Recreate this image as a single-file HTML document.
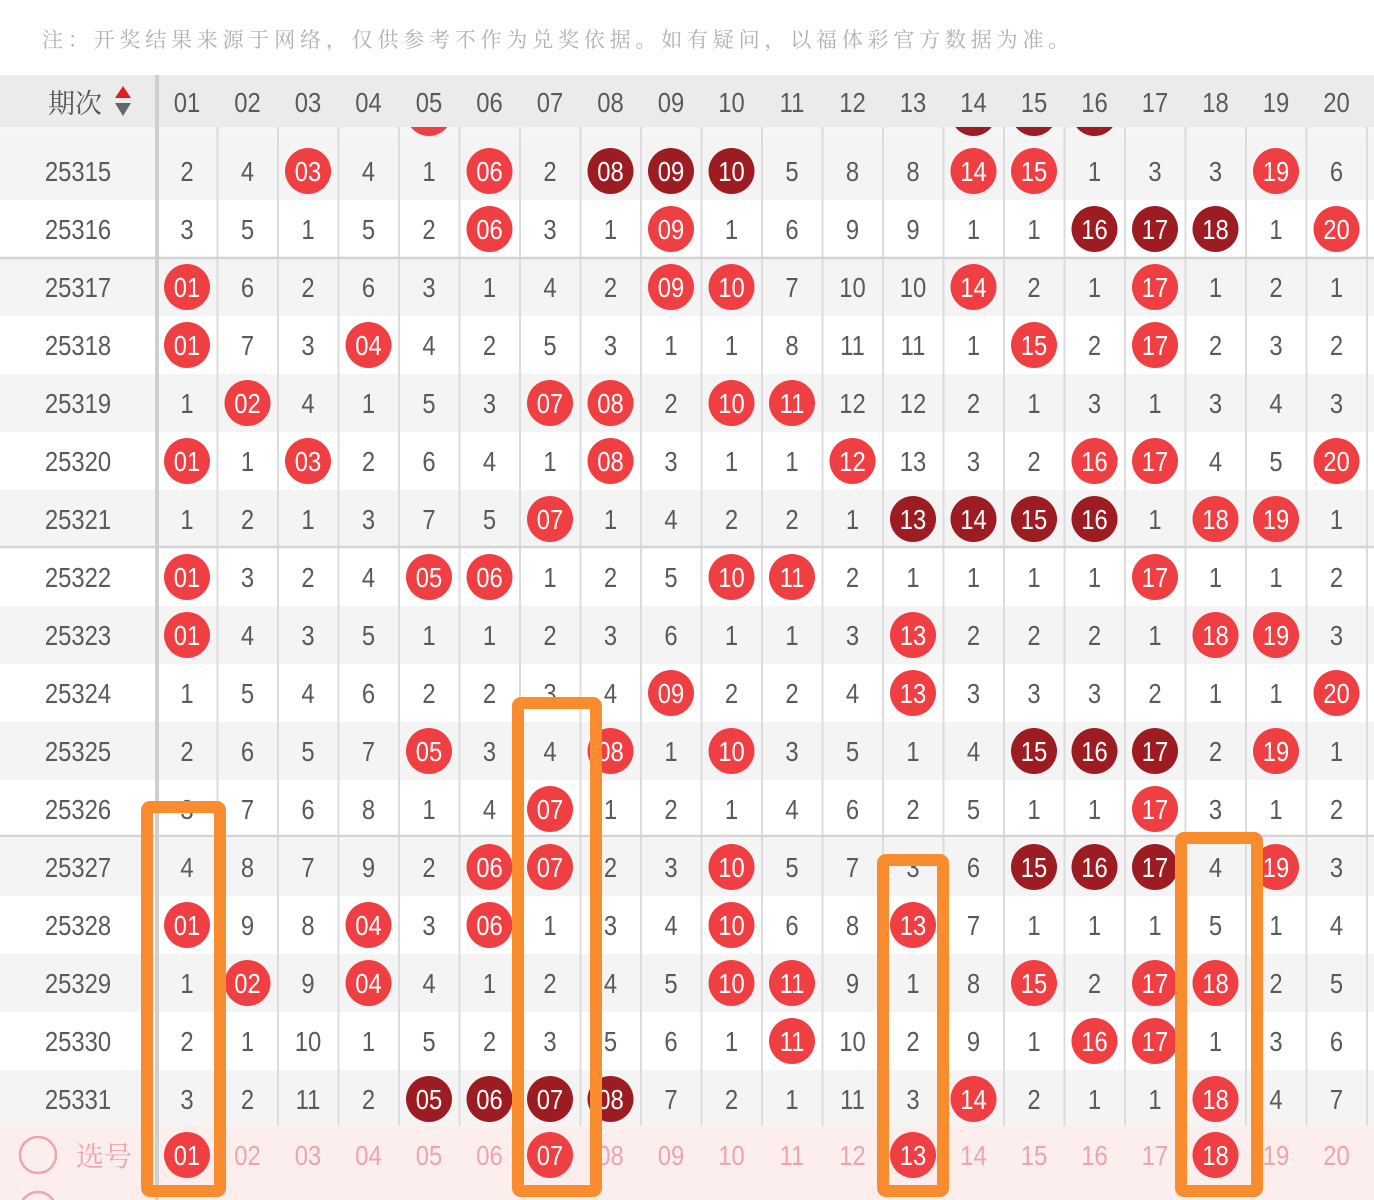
<!DOCTYPE html>
<html><head><meta charset="utf-8"><style>
html,body{margin:0;padding:0;background:#fff;width:1374px;height:1200px;overflow:hidden}
svg{display:block}
</style></head><body>
<svg id="s" width="1374" height="1200" xmlns="http://www.w3.org/2000/svg"></svg>
<script>
const rows=[
["25315","2,4,r03,4,1,r06,2,d08,d09,d10,5,8,8,r14,r15,1,3,3,r19,6"],
["25316","3,5,1,5,2,r06,3,1,r09,1,6,9,9,1,1,d16,d17,d18,1,r20"],
["25317","r01,6,2,6,3,1,4,2,r09,r10,7,10,10,r14,2,1,r17,1,2,1"],
["25318","r01,7,3,r04,4,2,5,3,1,1,8,11,11,1,r15,2,r17,2,3,2"],
["25319","1,r02,4,1,5,3,r07,r08,2,r10,r11,12,12,2,1,3,1,3,4,3"],
["25320","r01,1,r03,2,6,4,1,r08,3,1,1,r12,13,3,2,r16,r17,4,5,r20"],
["25321","1,2,1,3,7,5,r07,1,4,2,2,1,d13,d14,d15,d16,1,r18,r19,1"],
["25322","r01,3,2,4,r05,r06,1,2,5,r10,r11,2,1,1,1,1,r17,1,1,2"],
["25323","r01,4,3,5,1,1,2,3,6,1,1,3,r13,2,2,2,1,r18,r19,3"],
["25324","1,5,4,6,2,2,3,4,r09,2,2,4,r13,3,3,3,2,1,1,r20"],
["25325","2,6,5,7,r05,3,4,r08,1,r10,3,5,1,4,d15,d16,d17,2,r19,1"],
["25326","3,7,6,8,1,4,r07,1,2,1,4,6,2,5,1,1,r17,3,1,2"],
["25327","4,8,7,9,2,r06,r07,2,3,r10,5,7,3,6,d15,d16,d17,4,r19,3"],
["25328","r01,9,8,r04,3,r06,1,3,4,r10,6,8,r13,7,1,1,1,5,1,4"],
["25329","1,r02,9,r04,4,1,2,4,5,r10,r11,9,1,8,r15,2,r17,r18,2,5"],
["25330","2,1,10,1,5,2,3,5,6,1,r11,10,2,9,1,r16,r17,1,3,6"],
["25331","3,2,11,2,d05,d06,d07,d08,7,2,1,11,3,r14,2,1,1,r18,4,7"]];
const RED="#ef3f43",DARK="#9c1c22",F='font-family="Liberation Sans Narrow, Liberation Sans, sans-serif"';
const cx=i=>187+i*60.5;
let h='';
h+=`<rect x="0" y="84" width="1374" height="58" fill="#f5f5f5"/>`;
[[4,RED],[13,DARK],[14,DARK],[15,DARK]].forEach(([i,c])=>h+=`<circle cx="${cx(i)}" cy="113" r="23" fill="${c}"/>`);
rows.forEach((r,k)=>{const y=142+k*58;
 h+=`<rect x="0" y="${y}" width="1374" height="58" fill="${k%2?'#fff':'#f4f4f4'}"/>`;
});
for(let i=0;i<20;i++){const x=157+(i+1)*60.5;h+=`<line x1="${x}" y1="127" x2="${x}" y2="1200" stroke="#dcdcdc" stroke-width="2"/>`;}
[258,547,836].forEach(y=>h+=`<line x1="0" y1="${y}" x2="1374" y2="${y}" stroke="#d4d4d4" stroke-width="2.5"/>`);
h+=`<rect x="0" y="1126" width="1374" height="74" fill="#fdeeee"/>`;
h+=`<circle cx="38" cy="1155" r="18" fill="none" stroke="#eda4ae" stroke-width="2.5"/>`;
h+=`<text x="76" y="1166" font-family="Noto Serif CJK SC, serif" font-size="28" fill="#eda4ae">选号</text>`;
h+=`<circle cx="38" cy="1210" r="18" fill="none" stroke="#eda4ae" stroke-width="2.5"/>`;
const T=(x,y,s,fill)=>`<text x="${x}" y="${y}" text-anchor="middle" ${F} font-size="28" fill="${fill}" transform="translate(${x} 0) scale(0.85 1) translate(${-x} 0)">${s}</text>`;
for(let i=0;i<20;i++){const n=String(i+1).padStart(2,'0');
 if([0,6,12,17].includes(i)){h+=`<circle cx="${cx(i)}" cy="1155" r="23" fill="${RED}"/>`+T(cx(i),1165,n,"#fff");}
 else h+=T(cx(i),1165,n,"#eda4ae");}
rows.forEach((r,k)=>{const c=171+k*58;
 h+=T(78,c+10,r[0],"#5a5a5a");
 r[1].split(',').forEach((v,i)=>{
  if(v[0]=='r'||v[0]=='d'){h+=`<circle cx="${cx(i)}" cy="${c}" r="23" fill="${v[0]=='r'?RED:DARK}"/>`+T(cx(i),c+10,v.slice(1),"#fff");}
  else h+=T(cx(i),c+10,v,"#5a5a5a");
 });
});
h+=`<rect x="0" y="75" width="1374" height="52" fill="#ebebeb"/>`;
h+=`<text x="48" y="113" font-family="Noto Serif CJK SC, serif" font-size="27" fill="#555">期次</text>`;
h+=`<polygon points="123,86 131,98 115,98" fill="#e02020"/><polygon points="115,103 131,103 123,116" fill="#666"/>`;
for(let i=0;i<20;i++)h+=T(cx(i),112,String(i+1).padStart(2,'0'),"#5a5a5a");
h+=`<rect x="155" y="75" width="4" height="1125" fill="#cfcfcf"/>`;
h+=`<text x="42" y="47" font-family="Noto Serif CJK SC, serif" font-size="21" letter-spacing="4.8" fill="#b0b0b0">注：开奖结果来源于网络，仅供参考不作为兑奖依据。如有疑问，以福体彩官方数据为准。</text>`;
[[147,807,220],[518,703,596],[883,860,943],[1181,838,1257]].forEach(([x1,y,x2])=>h+=`<rect x="${x1}" y="${y}" width="${x2-x1}" height="${1191-y}" rx="3" fill="none" stroke="#f98c2e" stroke-width="12"/>`);
document.getElementById('s').innerHTML=h;
</script>
</body></html>
